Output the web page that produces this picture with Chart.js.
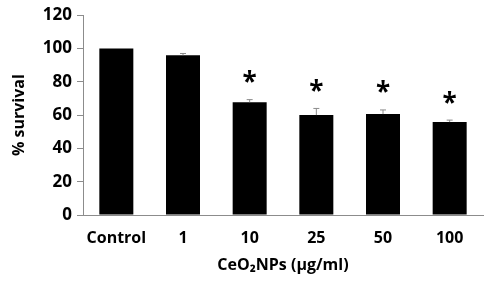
<!DOCTYPE html>
<html>
<head>
<meta charset="utf-8">
<script src="https://cdn.jsdelivr.net/npm/chart.js@4"></script>
<style>
  body { margin: 0; background: #fff; }
</style>
</head>
<body>
<canvas id="chart" width="484" height="281"></canvas>
<script>
var categories = ["Control", "1", "10", "25", "50", "100"];
var survival = [100, 96, 67.7, 60, 60.6, 55.8];
var errors = [0, 1, 1.6, 4, 2.5, 1.2];
var significant = [false, false, true, true, true, true];
var yTicks = [0, 20, 40, 60, 80, 100, 120];

var FONT = "'Open Sans', 'Liberation Sans', sans-serif";
var axisGray = "#8c8c8c";

// error bars (upper half only) + asterisks
var extras = {
  id: "extras",
  afterDatasetsDraw: function(chart) {
    var ctx = chart.ctx;
    var meta = chart.getDatasetMeta(0);
    var y = chart.scales.y;
    ctx.save();
    meta.data.forEach(function(bar, i) {
      var top = y.getPixelForValue(survival[i] + errors[i]);
      if (errors[i] > 0) {
        ctx.strokeStyle = "#8c8c8c";
        ctx.lineWidth = 1;
        ctx.beginPath();
        ctx.moveTo(bar.x, bar.y);
        ctx.lineTo(bar.x, top);
        ctx.moveTo(bar.x - 3, top);
        ctx.lineTo(bar.x + 3, top);
        ctx.stroke();
      }
      if (significant[i]) {
        ctx.fillStyle = "#000";
        ctx.font = "bold 26px " + FONT;
        ctx.textAlign = "center";
        ctx.textBaseline = "middle";
        ctx.fillText("*", bar.x, top - 16);
      }
    });
    ctx.restore();
  }
};

new Chart(document.getElementById("chart").getContext("2d"), {
  type: "bar",
  data: {
    labels: categories,
    datasets: [{
      data: survival,
      backgroundColor: "#000",
      borderWidth: 0,
      categoryPercentage: 1,
      barPercentage: 0.51
    }]
  },
  options: {
    responsive: false,
    animation: false,
    layout: { padding: { top: 9, right: 1, left: 0, bottom: 0 } },
    plugins: {
      legend: { display: false },
      tooltip: { enabled: false }
    },
    scales: {
      x: {
        grid: { display: false },
        border: { color: axisGray, width: 1 },
        ticks: {
          color: "#000",
          font: { family: FONT, size: 16, weight: "bold" },
          padding: 6,
          maxRotation: 0
        },
        title: {
          display: true,
          text: "CeO\u2082NPs (\u00b5g/ml)",
          color: "#000",
          font: { family: FONT, size: 16, weight: "bold" },
          padding: { top: 10, bottom: 6 }
        },
        afterFit: function(scale) { scale.height = 66; }
      },
      y: {
        min: 0,
        max: 120,
        afterBuildTicks: function(scale) {
          scale.ticks = yTicks.map(function(v) { return { value: v }; });
        },
        grid: {
          drawOnChartArea: false,
          drawTicks: true,
          tickLength: 6,
          color: axisGray
        },
        border: { color: axisGray, width: 1 },
        ticks: {
          color: "#000",
          font: { family: FONT, size: 17, weight: "bold" },
          padding: 5
        },
        title: {
          display: true,
          text: "% survival",
          color: "#000",
          font: { family: FONT, size: 16, weight: "bold" },
          padding: { top: 10, bottom: 8 }
        },
        afterFit: function(scale) { scale.width = 83; }
      }
    }
  },
  plugins: [extras]
});
</script>
</body>
</html>
